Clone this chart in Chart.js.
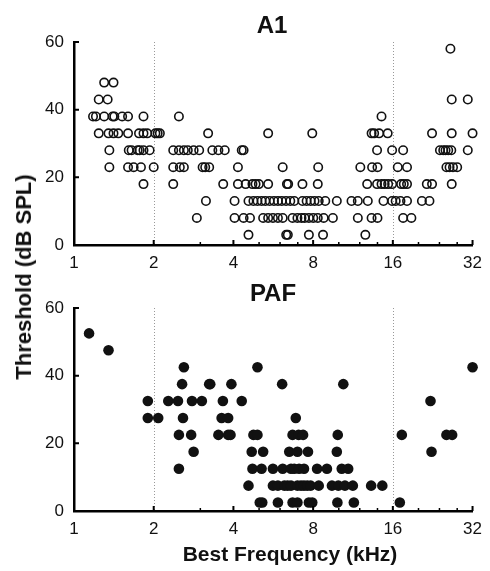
<!DOCTYPE html>
<html>
<head>
<meta charset="utf-8">
<script src="https://cdn.jsdelivr.net/npm/chart.js@4.4.0/dist/chart.umd.min.js"></script>
<style>
  body { margin: 0; background: #fff; }
  #wrap { position: relative; width: 490px; height: 571px; }
  #wrap canvas { position: absolute; left: 0; }
  #ylab {
    position: absolute; left: 24px; top: 277px;
    transform: translate(-50%, -50%) rotate(-90deg);
    font: bold 22px "Liberation Sans", Arial, Helvetica, sans-serif;
    white-space: nowrap; color: #111;
  }
</style>
</head>
<body>
<div id="wrap">
  <canvas id="a1Chart" width="490" height="272" style="top:0"></canvas>
  <canvas id="pafChart" width="490" height="299" style="top:272px"></canvas>
  <div id="ylab">Threshold (dB SPL)</div>
</div>
<script>
// threshold levels (dB SPL) and the best frequencies (kHz) of the units found at each level
const a1Levels = [58, 48, 43, 38, 33, 28, 23, 18, 13, 8, 3];
const a1BF = [
  [26.4],
  [1.30, 1.41],
  [1.24, 1.34, 26.7, 30.7],
  [1.18, 1.21, 1.30, 1.40, 1.42, 1.52, 1.60, 1.83, 2.49, 14.5],
  [1.24, 1.35, 1.41, 1.47, 1.60, 1.76, 1.83, 1.89, 2.03, 2.07, 2.11, 3.21, 5.41, 7.94,
   13.3, 13.6, 14.2, 15.3, 22.5, 26.7, 32.0],
  [1.36, 1.61, 1.65, 1.74, 1.77, 1.83, 1.93, 2.37, 2.49, 2.60, 2.69, 2.83, 2.97, 3.33,
   3.51, 3.71, 4.30, 4.37, 13.95, 15.9, 17.5, 24.1, 24.8, 25.3, 25.9, 26.6, 30.7],
  [1.36, 1.60, 1.68, 1.79, 2.00, 2.37, 2.51, 2.60, 3.06, 3.13, 3.24, 4.16, 6.14, 8.36,
   12.06, 13.36, 14.0, 16.7, 18.1, 25.5, 26.2, 27.0, 28.0],
  [1.83, 2.37, 3.66, 4.16, 4.45, 4.72, 4.85, 4.99, 5.41, 6.37, 6.44, 7.29, 8.33, 12.8,
   13.95, 14.5, 14.9, 15.36, 15.9, 17.2, 17.6, 18.1, 21.5, 22.5, 26.7],
  [3.15, 4.04, 4.56, 4.76, 4.93, 5.11, 5.28, 5.48, 5.69, 5.89, 6.09, 6.32, 6.56, 6.79,
   7.29, 7.56, 7.83, 8.10, 8.40, 8.89, 9.83, 11.17, 11.8, 12.87, 14.75, 15.9, 16.4,
   17.1, 18.1, 20.6, 22.0],
  [2.91, 4.04, 4.37, 4.62, 5.18, 5.41, 5.64, 5.89, 6.14, 6.69, 6.98, 7.23, 7.43, 7.71,
   8.01, 8.33, 8.77, 9.50, 11.8, 13.3, 14.0, 17.5, 18.8],
  [4.56, 6.33, 6.42, 7.71, 8.72, 12.6]
];

const pafLevels = [52.5, 47.5, 42.5, 37.5, 32.5, 27.5, 22.5, 17.5, 12.5, 7.5, 2.5];
const pafBF = [
  [1.14],
  [1.35],
  [2.60, 4.93, 32.0],
  [2.56, 3.24, 3.27, 3.93, 6.11, 10.4],
  [1.90, 2.27, 2.47, 2.79, 3.04, 3.65, 4.30, 22.2],
  [1.90, 2.08, 2.58, 3.61, 3.82, 6.88],
  [2.49, 2.77, 3.51, 3.82, 3.90, 4.76, 4.93, 6.69, 7.05, 7.33, 9.91, 17.3, 25.5, 26.8],
  [2.83, 4.69, 5.18, 6.50, 6.98, 7.65, 9.83, 22.4],
  [2.49, 4.72, 5.11, 5.64, 6.14, 6.60, 6.79, 7.08, 7.39, 8.28, 9.02, 10.26, 10.85],
  [4.56, 5.64, 5.89, 6.23, 6.41, 6.60, 6.98, 7.20, 7.39, 7.60, 7.83, 8.40, 9.42, 9.96,
   10.55, 11.3, 13.25, 14.6],
  [5.03, 5.14, 5.89, 6.69, 6.98, 7.71, 7.94, 9.88, 11.4, 17.0]
];

const freqTicks = [1, 2, 4, 8, 16, 32];
const minorFreqTicks = [3, 5, 6, 7, 10, 12, 14, 20, 24, 28];
const thrTicks = [0, 20, 40, 60];
const octaveMarks = [2, 16];

const FONT = '"Liberation Sans", Arial, Helvetica, sans-serif';

function toPoints(levels, bfs) {
  const pts = [];
  levels.forEach((lvl, i) => bfs[i].forEach(f => pts.push({ x: f, y: lvl })));
  return pts;
}

// dotted octave lines, inward tick marks and panel texts
const panelDecor = {
  id: 'panelDecor',
  beforeDatasetsDraw(chart) {
    const { ctx, chartArea: a, scales: { x } } = chart;
    ctx.save();
    ctx.strokeStyle = '#999';
    ctx.lineWidth = 1;
    ctx.setLineDash([1, 2]);
    octaveMarks.forEach(f => {
      const px = Math.round(x.getPixelForValue(f)) + 0.5;
      ctx.beginPath();
      ctx.moveTo(px, a.top);
      ctx.lineTo(px, a.bottom);
      ctx.stroke();
    });
    ctx.restore();
  },
  afterDraw(chart, args, opts) {
    const { ctx, chartArea: a, scales: { x, y } } = chart;
    ctx.save();
    ctx.strokeStyle = '#000';
    ctx.lineWidth = 2;
    ctx.beginPath();
    freqTicks.slice(1).forEach(f => {
      const px = x.getPixelForValue(f);
      ctx.moveTo(px, a.bottom);
      ctx.lineTo(px, a.bottom - 5);
    });
    thrTicks.slice(1).forEach(v => {
      const py = y.getPixelForValue(v);
      ctx.moveTo(a.left, py);
      ctx.lineTo(a.left + 5, py);
    });
    ctx.stroke();
    ctx.lineWidth = 1.5;
    ctx.beginPath();
    minorFreqTicks.forEach(f => {
      const px = x.getPixelForValue(f);
      ctx.moveTo(px, a.bottom);
      ctx.lineTo(px, a.bottom - 3);
    });
    ctx.stroke();

    ctx.fillStyle = '#111';
    ctx.textAlign = 'center';
    ctx.textBaseline = 'middle';
    ctx.font = 'bold 24px ' + FONT;
    ctx.fillText(opts.title, opts.titleX, opts.titleY);
    if (opts.xLabel) {
      ctx.font = 'bold 21px ' + FONT;
      ctx.fillText(opts.xLabel, opts.xLabelX, opts.xLabelY);
    }
    ctx.restore();
  }
};

function makeOptions(top, axisHeight, decor) {
  return {
    responsive: false,
    animation: false,
    devicePixelRatio: 1,
    layout: { padding: { top: top, right: 10, left: 0, bottom: 0 } },
    plugins: { legend: { display: false }, tooltip: { enabled: false }, panelDecor: decor },
    scales: {
      x: {
        type: 'logarithmic',
        min: 1,
        max: 32,
        afterBuildTicks: s => { s.ticks = freqTicks.map(v => ({ value: v })); },
        afterFit: s => { s.height = axisHeight; },
        ticks: {
          callback: v => String(v),
          autoSkip: false,
          maxRotation: 0,
          padding: 8,
          color: '#111',
          font: { family: FONT, size: 17 }
        },
        grid: { display: false, drawTicks: false },
        border: { color: '#000', width: 2.5 }
      },
      y: {
        min: 0,
        max: 60,
        afterBuildTicks: s => { s.ticks = thrTicks.map(v => ({ value: v })); },
        afterFit: s => { s.width = 74; },
        ticks: {
          padding: 10,
          color: '#111',
          font: { family: FONT, size: 17 }
        },
        grid: { display: false, drawTicks: false },
        border: { color: '#000', width: 2.5 }
      }
    }
  };
}

const a1Chart = new Chart(document.getElementById('a1Chart'), {
  type: 'scatter',
  data: {
    datasets: [{
      label: 'A1',
      data: toPoints(a1Levels, a1BF),
      pointStyle: 'circle',
      pointRadius: 4.2,
      pointBackgroundColor: 'rgba(0,0,0,0)',
      pointBorderColor: '#111',
      pointBorderWidth: 1.6,
      clip: false
    }]
  },
  options: makeOptions(42, 27, { title: 'A1', titleX: 272, titleY: 26 }),
  plugins: [panelDecor]
});

const pafChart = new Chart(document.getElementById('pafChart'), {
  type: 'scatter',
  data: {
    datasets: [{
      label: 'PAF',
      data: toPoints(pafLevels, pafBF),
      pointStyle: 'circle',
      pointRadius: 5.3,
      pointBackgroundColor: '#111',
      pointBorderWidth: 0,
      clip: false
    }]
  },
  options: makeOptions(36, 60, {
    title: 'PAF', titleX: 273, titleY: 22,
    xLabel: 'Best Frequency (kHz)', xLabelX: 290, xLabelY: 283
  }),
  plugins: [panelDecor]
});
</script>
</body>
</html>
